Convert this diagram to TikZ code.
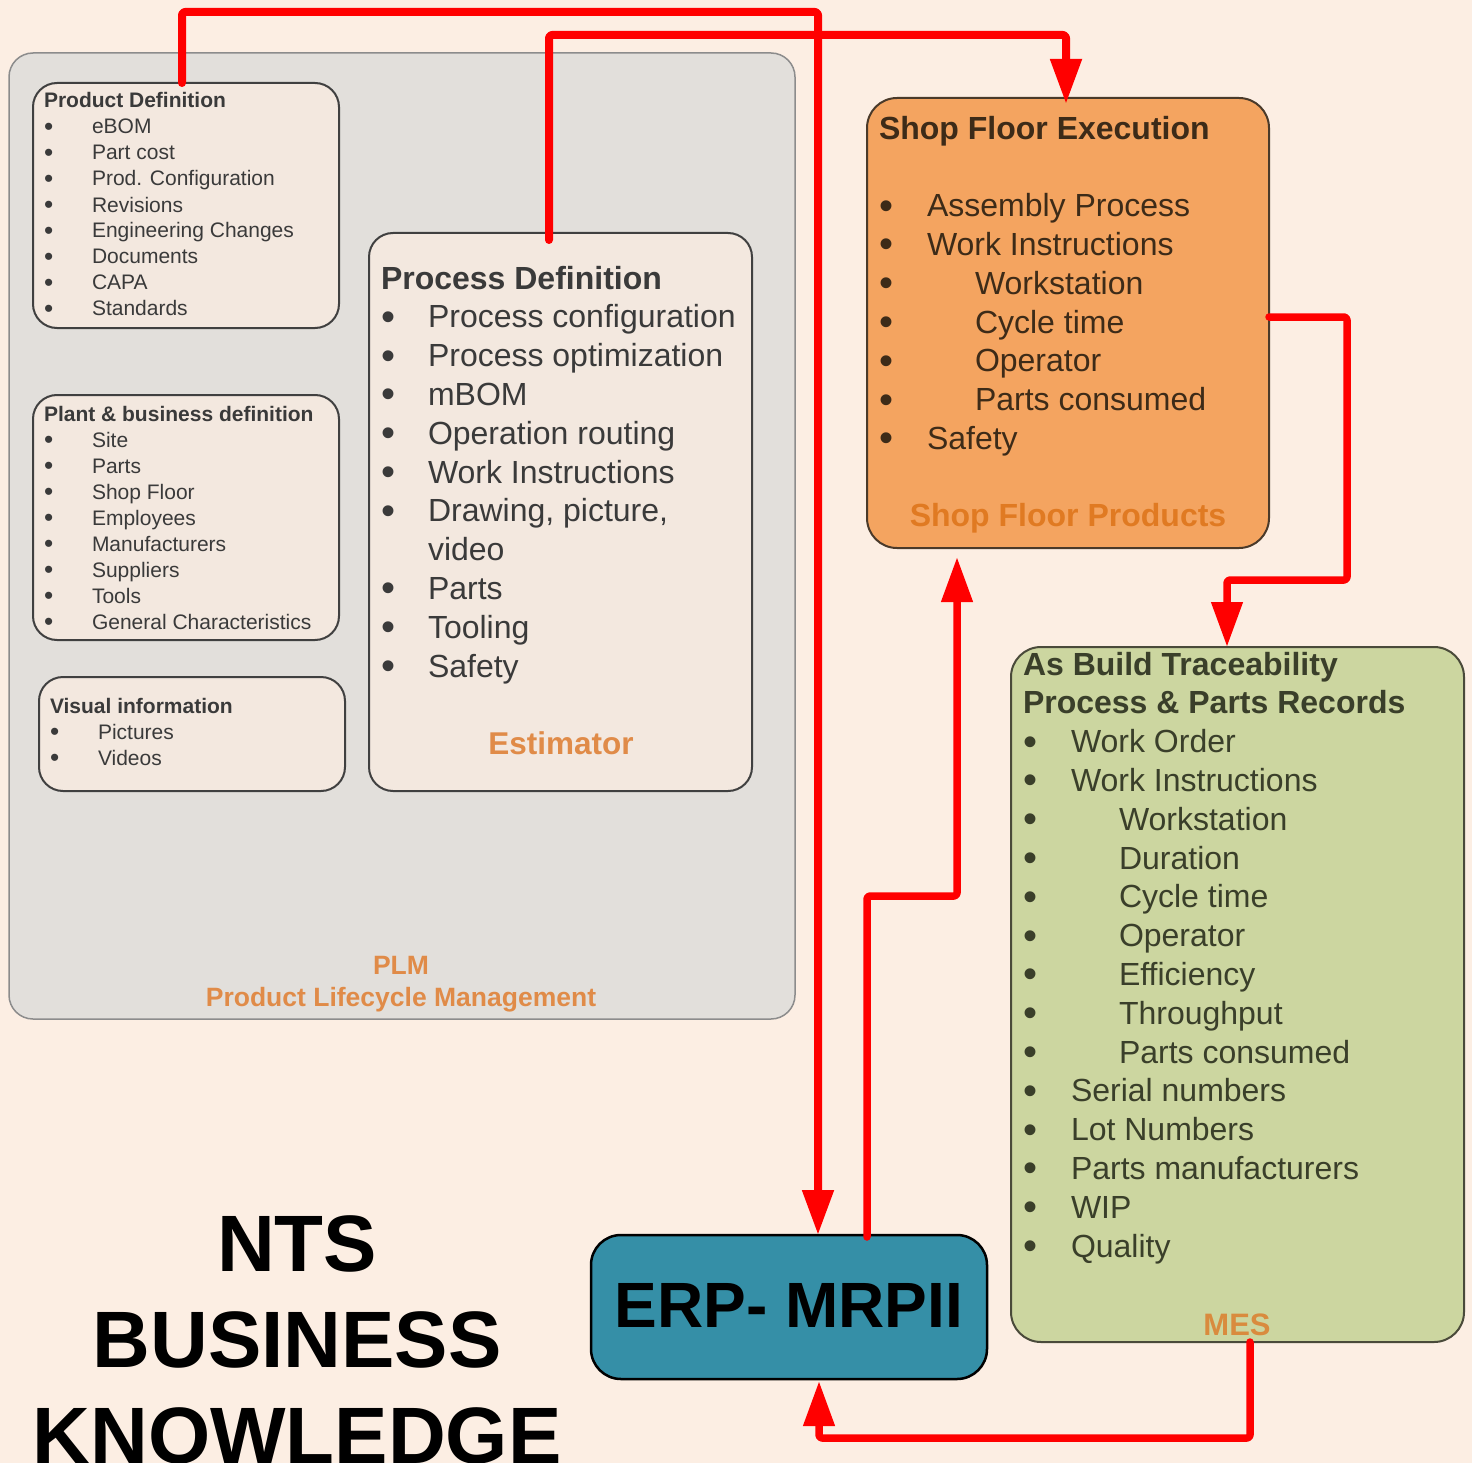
\documentclass[tikz,border=0pt]{standalone}
\usepackage{fontspec}
\usepackage{graphicx}
\setmainfont{Liberation Sans}
\usetikzlibrary{arrows.meta}
\definecolor{bg}{HTML}{FCEEE3}
\definecolor{plmfill}{HTML}{E2DFDB}
\definecolor{plmline}{HTML}{8C8C8C}
\definecolor{innerfill}{HTML}{F3E8DF}
\definecolor{innerline}{HTML}{404040}
\definecolor{sfefill}{HTML}{F4A460}
\definecolor{sfeline}{HTML}{4A3A2A}
\definecolor{mesfill}{HTML}{CCD6A0}
\definecolor{mesline}{HTML}{4A4A3A}
\definecolor{erpfill}{HTML}{358FA7}
\definecolor{graytxt}{HTML}{3A3A3A}
\definecolor{browntxt}{HTML}{3D2B18}
\definecolor{olivetxt}{HTML}{3A3F2A}
\definecolor{orangelbl}{HTML}{E08B48}
\definecolor{sfplbl}{HTML}{E07A22}
\definecolor{meslbl}{HTML}{D98B3E}
\definecolor{arrowred}{HTML}{FF0000}
\newcommand\bu[1]{\makebox[#1][l]{\raisebox{-0.08em}{\scalebox{1.25}{\textbullet}}}}
\newcommand\fsS{\fontsize{21}{26}\selectfont}
\newcommand\fsM{\fontsize{32}{38.8}\selectfont}
\begin{document}
\begin{tikzpicture}[x=1pt,y=-1pt,
  boxbase/.style={rounded corners=24pt, inner sep=0pt, outer sep=0pt},
  plmbox/.style={boxbase, draw=plmline, fill=plmfill, line width=1.5pt},
  innerbox/.style={boxbase, draw=innerline, fill=innerfill, line width=2pt},
  sfebox/.style={boxbase, rounded corners=30pt, draw=sfeline, fill=sfefill, line width=2pt},
  mesbox/.style={boxbase, rounded corners=30pt, draw=mesline, fill=mesfill, line width=2pt},
  erpbox/.style={boxbase, rounded corners=30pt, draw=black, fill=erpfill, line width=2.5pt},
  txt/.style={inner sep=0pt, outer sep=0pt, align=left, anchor=base west},
  lbl/.style={inner sep=0pt, outer sep=0pt, align=center, anchor=base, font=\bfseries},
  redarrow/.style={draw=arrowred, line width=8pt, line join=round, line cap=round, rounded corners=3pt, -{Triangle[length=45pt,width=30pt]}},
]
\fill[bg] (0,0) rectangle (1472,1463);
\useasboundingbox (0,0) rectangle (1472,1463);

% boxes
\node[plmbox, minimum width=786pt, minimum height=966pt] (plm) at (402,536) {};
\node[innerbox, minimum width=306pt, minimum height=245pt] (prod) at (186,205.5) {};
\node[innerbox, minimum width=306pt, minimum height=245pt] (plant) at (186,517.5) {};
\node[innerbox, minimum width=306pt, minimum height=114pt] (visual) at (192,734) {};
\node[innerbox, minimum width=383pt, minimum height=558pt] (procdef) at (560.5,512) {};
\node[sfebox, minimum width=402pt, minimum height=450pt] (sfe) at (1068,323) {};
\node[mesbox, minimum width=453pt, minimum height=695pt] (mes) at (1237.5,994.5) {};
\node[erpbox, minimum width=396pt, minimum height=144pt] (erp) at (789,1307) {};

% texts (anchor = baseline of the last line)
\node[txt, font=\fsS, text=graytxt] (prodtxt) at (44,316) {\textbf{Product Definition}\\
\bu{48pt}eBOM\\ \bu{48pt}Part cost\\ \bu{48pt}Prod. Configuration\\ \bu{48pt}Revisions\\
\bu{48pt}Engineering Changes\\ \bu{48pt}Documents\\ \bu{48pt}CAPA\\ \bu{48pt}Standards};

\node[txt, font=\fsS, text=graytxt] (planttxt) at (44,629) {\textbf{Plant \& business definition}\\
\bu{48pt}Site\\ \bu{48pt}Parts\\ \bu{48pt}Shop Floor\\ \bu{48pt}Employees\\
\bu{48pt}Manufacturers\\ \bu{48pt}Suppliers\\ \bu{48pt}Tools\\ \bu{48pt}General Characteristics};

\node[txt, font=\fsS, text=graytxt] (visualtxt) at (50,765) {\textbf{Visual information}\\
\bu{48pt}Pictures\\ \bu{48pt}Videos};

\node[txt, font=\fsM, text=graytxt] (proctxt) at (381,677) {\textbf{Process Definition}\\
\bu{47pt}Process configuration\\ \bu{47pt}Process optimization\\ \bu{47pt}mBOM\\
\bu{47pt}Operation routing\\ \bu{47pt}Work Instructions\\ \bu{47pt}Drawing, picture,\\
\hspace*{47pt}video\\ \bu{47pt}Parts\\ \bu{47pt}Tooling\\ \bu{47pt}Safety};
\node[lbl, font=\fontsize{31.5}{36}\selectfont\bfseries, text=orangelbl] (estim) at (561,754) {Estimator};

\node[txt, font=\fsM, text=browntxt] (sfetxt) at (879,449.4) {\textbf{Shop Floor Execution}\\[38.8pt]
\bu{48pt}Assembly Process\\ \bu{48pt}Work Instructions\\ \bu{96pt}Workstation\\
\bu{96pt}Cycle time\\ \bu{96pt}Operator\\ \bu{96pt}Parts consumed\\ \bu{48pt}Safety};
\node[lbl, font=\fontsize{32}{36}\selectfont\bfseries, text=sfplbl] (sfp) at (1068,526) {Shop Floor Products};

\node[txt, font=\fsM, text=olivetxt] (mestxt) at (1023,1257) {\textbf{As Build Traceability}\\ \textbf{Process \& Parts Records}\\
\bu{48pt}Work Order\\ \bu{48pt}Work Instructions\\ \bu{96pt}Workstation\\ \bu{96pt}Duration\\
\bu{96pt}Cycle time\\ \bu{96pt}Operator\\ \bu{96pt}Efficiency\\ \bu{96pt}Throughput\\
\bu{96pt}Parts consumed\\ \bu{48pt}Serial numbers\\ \bu{48pt}Lot Numbers\\
\bu{48pt}Parts manufacturers\\ \bu{48pt}WIP\\ \bu{48pt}Quality};
\node[lbl, font=\fontsize{31}{36}\selectfont\bfseries, text=meslbl] (meslabel) at (1237,1335) {MES};

\node[lbl, font=\fontsize{26.5}{32}\selectfont\bfseries, text=orangelbl] (plmlabel) at (401,1006) {PLM\\ Product Lifecycle Management};

\node[lbl, font=\fontsize{64}{70}\selectfont\bfseries, text=black] (erptxt) at (789,1327) {ERP- MRPII};

\node[lbl, font=\fontsize{80}{96}\selectfont\bfseries, text=black] (nts) at (297,1463) {NTS\\ BUSINESS\\ KNOWLEDGE};

% connectors
\draw[redarrow] (182,0 |- prod.north) |- (818,12) -- (818,0 |- erp.north);
\draw[redarrow] ([yshift=-7pt]549,0 |- procdef.north) |- (1066,35) -- ([yshift=-6pt]1066,0 |- sfe.north);
\draw[redarrow, line width=7.5pt] ([yshift=-2pt]867,0 |- erp.north) |- (957,896) -- ([yshift=-9pt]957,0 |- sfe.south);
\draw[redarrow, line width=7.5pt] (sfe.east |- 0,317) -| (1347,580) -| (1227,0 |- mes.north);
\draw[redarrow, line width=7.5pt] (1250,0 |- mes.south) |- (819,1438) -- ([yshift=-2pt]819,0 |- erp.south);
\end{tikzpicture}
\end{document}
